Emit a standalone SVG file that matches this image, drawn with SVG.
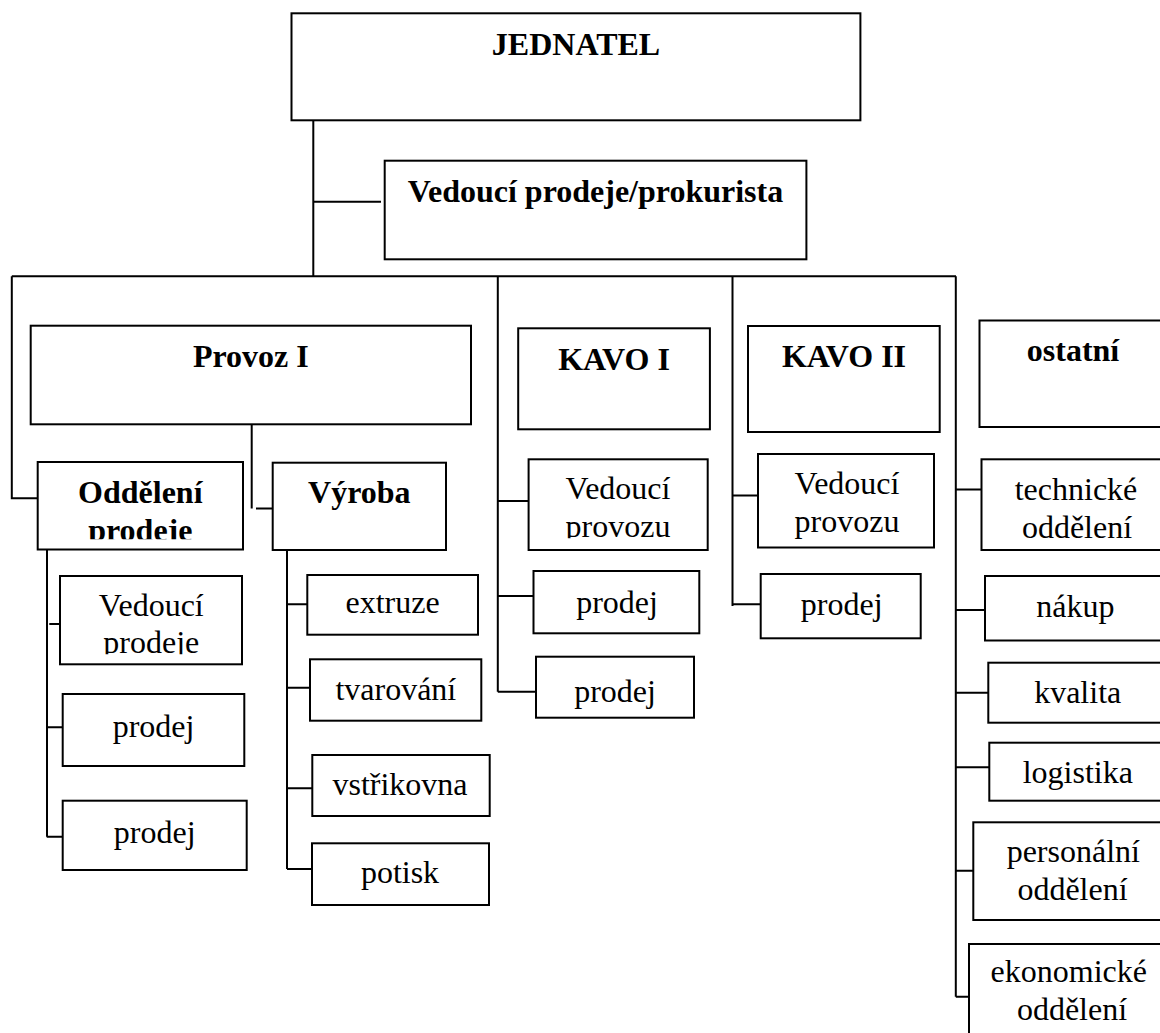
<svg xmlns="http://www.w3.org/2000/svg" width="1160" height="1033" viewBox="0 0 1160 1033">
<style>
.box{fill:#fff;stroke:#000;stroke-width:2}
.c{stroke:#000;stroke-width:2;fill:none}
.t{font-family:"Liberation Serif","Times New Roman",serif;font-size:32px;text-anchor:middle;fill:#000}
.b{font-weight:bold}
</style>
<defs>
<clipPath id="clipOdd"><rect x="37.7" y="462" width="205.3" height="77.3"/></clipPath>
<clipPath id="clipVP"><rect x="60" y="576" width="182" height="78.3"/></clipPath>
<clipPath id="clipK1"><rect x="528.6" y="459.3" width="179" height="79"/></clipPath>
</defs>
<rect width="1160" height="1033" fill="#fff"/>
<g id="connectors">
<path class="c" d="M313.3 120.3V276.3M313 201.7H381M11.8 276.3H956"/>
<path class="c" d="M11.8 276.3V498.3H37.7"/>
<path class="c" d="M251.7 424.3V508.5M256 508.5H272.7"/>
<path class="c" d="M47 549.5V836.7M49.3 624H60M47 727.3H62.7M46.7 836.7H62.7"/>
<path class="c" d="M287 550V869M287 604.3H307.3M287 687.7H310M287 788.3H312.3M287 869H312"/>
<path class="c" d="M497.8 276.3V691.7M497.8 501H528.6M497.8 596H533.5M497.8 691.7H536"/>
<path class="c" d="M732.5 276.3V606M732.5 495.5H758M732.5 604.3H760.7"/>
<path class="c" d="M955.8 276.3V996.7M955.8 489.5H981.5M955.8 610H985M955.8 692.7H988.3M955.8 767.3H992M955.8 870.7H973.3M955.8 996.7H969"/>
</g>
<g id="jednatel"><rect class="box" x="291.5" y="13.3" width="568.9" height="107"/><text class="t b" x="576" y="55">JEDNATEL</text></g>
<g id="vedouci-prokurista"><rect class="box" x="384.7" y="160.7" width="421.7" height="98.6"/><text class="t b" x="595.5" y="201.7">Vedoucí prodeje/prokurista</text></g>
<g id="provoz1"><rect class="box" x="30.7" y="325.7" width="440.3" height="98.6"/><text class="t b" x="250.8" y="366.7">Provoz I</text></g>
<g id="kavo1"><rect class="box" x="518.2" y="328.3" width="191.7" height="101"/><text class="t b" x="614" y="370">KAVO I</text></g>
<g id="kavo2"><rect class="box" x="748" y="326" width="191.7" height="106"/><text class="t b" x="844" y="366.7">KAVO II</text></g>
<g id="ostatni"><rect class="box" x="979.5" y="320.5" width="190.5" height="106.5"/><text class="t b" x="1073" y="361.2">ostatní</text></g>
<g id="oddeleni-prodeje"><rect class="box" x="37.7" y="462" width="205.3" height="87.5"/><g clip-path="url(#clipOdd)"><text class="t b" x="140.3" y="502.7">Oddělení</text><text class="t b" x="140.3" y="541">prodeje</text></g></g>
<g id="vyroba"><rect class="box" x="272.7" y="462.7" width="173.3" height="87.3"/><text class="t b" x="359.3" y="503.3">Výroba</text></g>
<g id="vedouci-prodeje"><rect class="box" x="60" y="576" width="182" height="88.3"/><g clip-path="url(#clipVP)"><text class="t" x="151.3" y="616">Vedoucí</text><text class="t" x="151.3" y="653">prodeje</text></g></g>
<g id="prodej-o1"><rect class="box" x="62.7" y="694" width="181.6" height="72"/><text class="t" x="153.5" y="737.3">prodej</text></g>
<g id="prodej-o2"><rect class="box" x="62.7" y="800.7" width="184" height="69.3"/><text class="t" x="154.7" y="842.7">prodej</text></g>
<g id="extruze"><rect class="box" x="307.3" y="575" width="170.7" height="59.7"/><text class="t" x="392.5" y="613.3">extruze</text></g>
<g id="tvarovani"><rect class="box" x="310" y="659.3" width="171.3" height="61.4"/><text class="t" x="395.8" y="700">tvarování</text></g>
<g id="vstrikovna"><rect class="box" x="312.3" y="755" width="177.4" height="61"/><text class="t" x="400" y="795">vstřikovna</text></g>
<g id="potisk"><rect class="box" x="312" y="843.3" width="177" height="61.7"/><text class="t" x="400" y="883">potisk</text></g>
<g id="k1-vedouci"><rect class="box" x="528.6" y="459.3" width="179.1" height="90.7"/><g clip-path="url(#clipK1)"><text class="t" x="618" y="499.3">Vedoucí</text><text class="t" x="618" y="536.5">provozu</text></g></g>
<g id="k1-prodej1"><rect class="box" x="533.5" y="571" width="165.8" height="62.3"/><text class="t" x="617" y="612.7">prodej</text></g>
<g id="k1-prodej2"><rect class="box" x="536" y="656.7" width="158" height="61"/><text class="t" x="615" y="701.7">prodej</text></g>
<g id="k2-vedouci"><rect class="box" x="758" y="454" width="176" height="93.5"/><text class="t" x="847" y="494">Vedoucí</text><text class="t" x="847" y="531.7">provozu</text></g>
<g id="k2-prodej"><rect class="box" x="760.7" y="574" width="160" height="64.3"/><text class="t" x="841.7" y="615">prodej</text></g>
<g id="technicke"><rect class="box" x="981.5" y="459.3" width="188.5" height="90.7"/><text class="t" x="1076" y="499.5">technické</text><text class="t" x="1077" y="537.5">oddělení</text></g>
<g id="nakup"><rect class="box" x="985" y="576" width="185" height="64.5"/><text class="t" x="1075.3" y="616.5">nákup</text></g>
<g id="kvalita"><rect class="box" x="988.3" y="662.7" width="181.7" height="60"/><text class="t" x="1077.7" y="702.7">kvalita</text></g>
<g id="logistika"><rect class="box" x="989.3" y="742.7" width="180.7" height="58"/><text class="t" x="1077.8" y="782.7">logistika</text></g>
<g id="personalni"><rect class="box" x="973.3" y="822.3" width="196.7" height="97.7"/><text class="t" x="1073.3" y="861.7">personální</text><text class="t" x="1072.5" y="900">oddělení</text></g>
<g id="ekonomicke"><rect class="box" x="969" y="944" width="201" height="100"/><text class="t" x="1068.8" y="982">ekonomické</text><text class="t" x="1072" y="1020">oddělení</text></g>
</svg>
